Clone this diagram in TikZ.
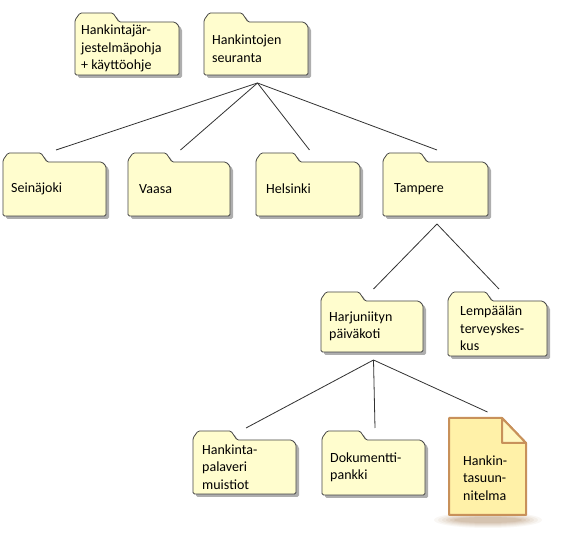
\documentclass[tikz,border=0pt]{standalone}
\usepackage{fontspec}
\setmainfont{Carlito}
\definecolor{folderfill}{RGB}{255,253,206}
\definecolor{folderline}{RGB}{70,70,70}
\definecolor{shadowc}{RGB}{140,140,140}
\definecolor{docfill}{RGB}{255,241,168}
\definecolor{docfold}{RGB}{255,247,192}
\definecolor{docline}{RGB}{200,145,90}
\definecolor{docshadow}{RGB}{150,100,50}
\definecolor{conn}{RGB}{50,50,50}
\tikzset{
  fbox/.style={inner sep=0pt, outer sep=0pt, anchor=north west},
  ftext/.style={inner sep=0pt, anchor=west, align=left, font=\fontsize{14}{17.5}\selectfont, text=black},
  fshape/.style={fill=folderfill, draw=folderline, line width=0.8pt, rounded corners=1.5pt},
  fshadow/.style={fill=shadowc, fill opacity=0.7, rounded corners=1.5pt},
  link/.style={draw=conn, line width=0.8pt},
}
% #1 name, #2 x0, #3 tab top, #4 x1, #5 bottom, #6 text x, #7 text
\newcommand\myfolder[7]{%
  \fill[fshadow] ({#2+3},{#5+3}) -- ({#2+3},{#3+10}) -- ({#2+8},{#3+3}) -- ({#2+41},{#3+3}) -- ({#2+47},{#3+12}) -- ({#4-1},{#3+12}) -- ({#4+3},{#3+16}) -- ({#4+3},{#5+3}) -- cycle;
  \path[fshape] ({#2},{#5}) -- ({#2},{#3+7}) -- ({#2+5},{#3}) -- ({#2+38},{#3}) -- ({#2+44},{#3+9}) -- ({#4-4},{#3+9}) -- ({#4},{#3+13}) -- ({#4},{#5}) -- cycle;
  \node[fbox, minimum width={(#4-#2+3)*1pt}, minimum height={(#5-#3+3)*1pt}] (#1) at ({#2},{#3}) {};
  \node[ftext] (#1-t) at ({#6},{(#3+9+#5)/2}) {#7};
}
\begin{document}
\begin{tikzpicture}[x=1pt, y=-1pt]
\useasboundingbox (0,0) rectangle (566,537);
\fill[white] (0,0) rectangle (566,537);

\myfolder{sys}{75}{13}{179}{75}{81}{Hankintajär-\\jestelmäpohja\\+ käyttöohje}
\myfolder{seur}{204}{13}{308}{75}{212}{Hankintojen\\seuranta}
\myfolder{sein}{3}{153}{106}{216}{11}{Seinäjoki}
\myfolder{vaasa}{128}{153}{230}{216}{139}{Vaasa}
\myfolder{hel}{256}{153}{360}{216}{266}{Helsinki}
\myfolder{tam}{383}{153}{488}{216}{394}{Tampere}
\myfolder{harj}{321}{292}{423}{352}{329}{Harjuniityn\\päiväkoti}
\myfolder{lemp}{448}{292}{547}{356}{460}{Lempäälän\\terveyskes-\\kus}
\myfolder{hpal}{193}{431}{296}{494}{202}{Hankinta-\\palaveri\\muistiot}
\myfolder{dok}{322}{431}{425}{495}{330}{Dokumentti-\\pankki}

% document shadow
\foreach \r/\o in {32/0.05,28/0.06,24/0.07,20/0.08,16/0.09,12/0.1}{
  \fill[docshadow, opacity=\o] (488,520) ellipse ({\r+22} and {\r/4});
}
% document
\path[fill=docfill, draw=docline, line width=2pt, line join=round] (449,418) -- (502,418) -- (526,443) -- (526,515) -- (449,515) -- cycle;
\path[fill=docfold, draw=docline, line width=2pt, line join=round] (502,418) -- (502,443) -- (526,443) -- cycle;
\node[fbox, minimum width=77pt, minimum height=97pt] (doc) at (449,418) {};
\node[ftext] (doc-t) at (463,478) {Hankin-\\tasuun-\\nitelma};

% connectors
\foreach \c in {sein,vaasa,hel,tam}{
  \draw[link] ([yshift=-5pt]seur.south) -- ([yshift=3pt]\c.north);
}
\foreach \c in {harj,lemp}{
  \draw[link] ([yshift=-5pt]tam.south) -- ([yshift=3pt]\c.north);
}
\foreach \c in {hpal,dok}{
  \draw[link] ([yshift=-5pt]harj.south) -- ([yshift=3pt]\c.north);
}
\draw[link] ([yshift=-5pt]harj.south) -- ([yshift=6pt]doc.north);
\end{tikzpicture}
\end{document}
